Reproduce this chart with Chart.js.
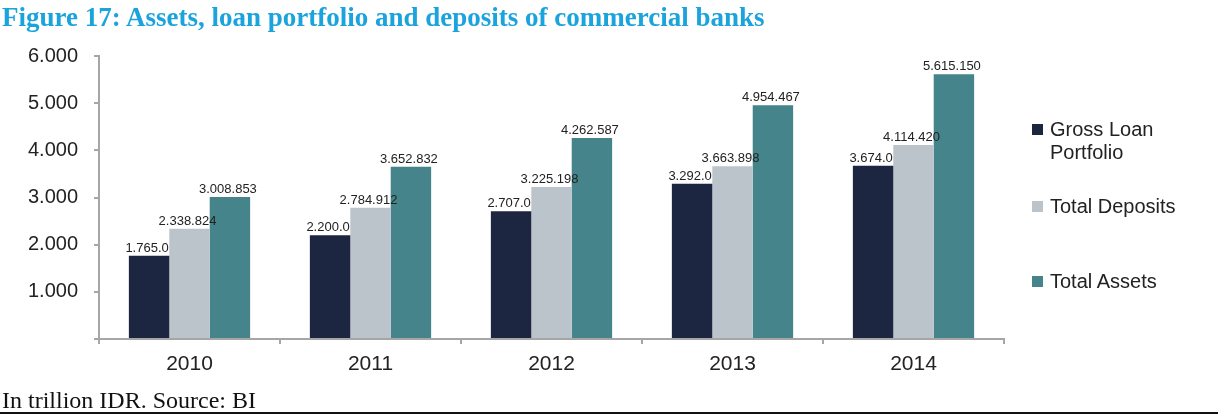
<!DOCTYPE html>
<html>
<head>
<meta charset="utf-8">
<script src="https://cdn.jsdelivr.net/npm/chart.js@4/dist/chart.umd.min.js"></script>
<style>
  body { margin: 0; background: #fff; }
  #wrap { position: relative; width: 1218px; height: 416px; overflow: hidden; }
  #chart1 { position: absolute; left: 0; top: 0; }
  .title {
    position: absolute; left: 2px; top: 2px;
    font-family: "Liberation Serif", "Times New Roman", serif;
    font-weight: bold; font-size: 27px; color: #1aa3dc; white-space: nowrap;
  }
  .source {
    position: absolute; left: 2px; top: 387px;
    font-family: "Liberation Serif", "Times New Roman", serif;
    font-size: 24px; color: #111; white-space: nowrap;
  }
  .rule { position: absolute; left: 0; right: 0; top: 412px; height: 2px; background: #111; }
  .legend { position: absolute; left: 1032px; top: 0; font-family: "Liberation Sans", Arial, sans-serif; font-size: 20px; color: #222; }
  .legend div { position: absolute; left: 0; white-space: nowrap; line-height: 23px; }
  .legend span.box { position: absolute; left: 0; top: 6px; width: 11px; height: 11px; }
  .legend span.txt { position: absolute; left: 18px; top: 0; }
</style>
</head>
<body>
<div id="wrap">
  <canvas id="chart1" width="1218" height="416"></canvas>
  <div class="title">Figure 17: Assets, loan portfolio and deposits of commercial banks</div>
  <div class="legend" id="legend"></div>
  <div class="source">In trillion IDR. Source: BI</div>
  <div class="rule"></div>
</div>
<script>
var years = ['2010', '2011', '2012', '2013', '2014'];
var seriesNames = [['Gross Loan', 'Portfolio'], 'Total Deposits', 'Total Assets'];
var grossLoan = [1765.0, 2200.0, 2707.0, 3292.0, 3674.0];
var deposits = [2338.824, 2784.912, 3225.198, 3663.898, 4114.420];
var assets = [3008.853, 3652.832, 4262.587, 4954.467, 5615.150];
var decimals = [1, 3, 3];
var yTicks = [0, 1000, 2000, 3000, 4000, 5000, 6000];

var colors = ['#1c2640', '#bcc4cb', '#45848a'];
var legendTops = [118, 195, 270];

// numbers are written with '.' for thousands and also for the decimals
function fmt(v, dec) {
  var parts = v.toFixed(dec).split('.');
  var intPart = parts[0].replace(/\B(?=(\d{3})+(?!\d))/g, '.');
  return dec > 0 ? intPart + '.' + parts[1] : intPart;
}

var valueLabels = {
  id: 'valueLabels',
  afterDatasetsDraw: function(chart) {
    var ctx = chart.ctx;
    ctx.save();
    ctx.font = '13px "Liberation Sans", Arial, sans-serif';
    ctx.fillStyle = '#222';
    ctx.textAlign = 'center';
    ctx.textBaseline = 'alphabetic';
    chart.data.datasets.forEach(function(ds, i) {
      chart.getDatasetMeta(i).data.forEach(function(bar, j) {
        ctx.fillText(fmt(ds.data[j], decimals[i]), bar.x - 2, bar.y - 4);
      });
    });
    ctx.restore();
  }
};

var chart = new Chart('chart1', {
  type: 'bar',
  data: {
    labels: years,
    datasets: [
      { label: 'Gross Loan Portfolio', data: grossLoan, backgroundColor: colors[0] },
      { label: 'Total Deposits', data: deposits, backgroundColor: colors[1] },
      { label: 'Total Assets', data: assets, backgroundColor: colors[2] }
    ]
  },
  options: {
    responsive: false,
    animation: false,
    categoryPercentage: 0.67,
    barPercentage: 1.0,
    layout: { padding: { top: 56, right: 214, left: 0, bottom: 0 } },
    plugins: { legend: { display: false }, tooltip: { enabled: false } },
    scales: {
      x: {
        grid: { offset: true, drawOnChartArea: false, tickLength: 5, color: '#a6a6a6', lineWidth: 2 },
        border: { color: '#a6a6a6', width: 2 },
        ticks: { color: '#222', padding: 8, font: { size: 21, family: '"Liberation Sans", Arial, sans-serif' } },
        afterFit: function(s) { s.height = 77; }
      },
      y: {
        min: 0,
        max: 6000,
        afterBuildTicks: function(s) { s.ticks = yTicks.map(function(v) { return { value: v }; }); },
        grid: { drawOnChartArea: false, tickLength: 5, color: '#a6a6a6', lineWidth: 2 },
        border: { color: '#a6a6a6', width: 2 },
        ticks: {
          color: '#222',
          padding: 16,
          font: { size: 20, family: '"Liberation Sans", Arial, sans-serif' },
          callback: function(v) { return v === 0 ? '' : fmt(v, 0); }
        },
        afterFit: function(s) { s.width = 99; }
      }
    }
  },
  plugins: [valueLabels]
});

// legend on the right, built from the same series names and colours
var legend = document.getElementById('legend');
seriesNames.forEach(function(name, i) {
  var item = document.createElement('div');
  item.style.top = legendTops[i] + 'px';
  var box = document.createElement('span');
  box.className = 'box';
  box.style.background = colors[i];
  var txt = document.createElement('span');
  txt.className = 'txt';
  txt.innerHTML = Array.isArray(name) ? name.join('<br>') : name;
  item.appendChild(box);
  item.appendChild(txt);
  legend.appendChild(item);
});
</script>
</body>
</html>
